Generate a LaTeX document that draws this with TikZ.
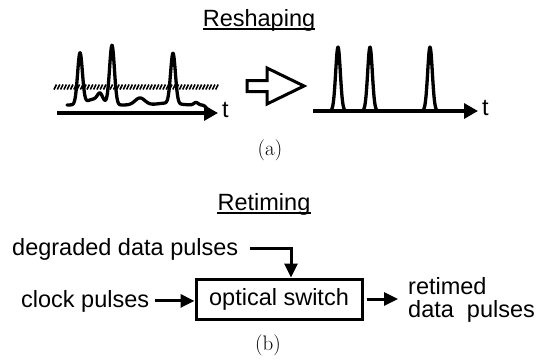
\documentclass[tikz,border=0pt]{standalone}
\usepackage{fontspec}
\newfontfamily\arialf{Liberation Sans}
\usetikzlibrary{arrows.meta}
\tikzset{
  declare function={G(\X,\M,\W)=exp(-min(((\X-\M)/\W)^2,15));},
  lbl/.style={font=\arialf\fontsize{23.5}{26}\selectfont, inner sep=0pt},
  captxt/.style={font=\fontsize{21}{24}\selectfont, inner sep=0pt},
  sig/.style={line width=3.3pt, line join=round, line cap=round},
  axisarrow/.style={line width=3.2pt, -{Triangle[length=14pt,width=15pt]}},
  conn/.style={line width=3pt, -{Triangle[length=14pt,width=13pt]}},
  switchbox/.style={draw, line width=3pt, minimum width=166pt, minimum height=40pt, inner sep=0pt, font=\arialf\fontsize{23.5}{26}\selectfont},
  uline/.style={line width=1.4pt},
  hatch/.style={line width=1.6pt},
}
\begin{document}
\begin{tikzpicture}[x=1pt,y=-1pt]
\useasboundingbox (0,0) rectangle (539,362);
% ---- (a) Reshaping ----
\node[lbl, anchor=base] (resh) at (259,26) {Reshaping};
\draw[uline] ([yshift=-3pt]resh.base west) -- ([yshift=-3pt]resh.base east);
% left plot
\foreach \hx in {54,57.3,...,219} \draw[hatch] (\hx,89.5) -- (\hx+2.5,84.5);
\draw[axisarrow] (57,113) -- (218,113);
\draw[sig] plot[domain=67:208, samples=400, variable=\t]
  (\t, {105 - 51*G(\t,80,3.4) - 59*G(\t,112,3.4) - 50*G(\t,173,3.4)
        - 6*G(\t,95,12) - 7*G(\t,100,3.5) - 7*G(\t,140,7)
        - 2*G(\t,168,14) - 2.5*G(\t,196,3) + 7*G(\t,210,4)});
\node[lbl, anchor=base west] (t1) at (222,117) {t};
% hollow arrow
\draw[line width=3pt, line join=miter] (247,80.5) -- (267,80.5) -- (267,68) -- (304,86) -- (267,104) -- (267,91.5) -- (247,91.5) -- cycle;
% right plot
\draw[axisarrow] (313,111) -- (478,111);
\draw[sig] plot[domain=322:446, samples=400, variable=\t]
  (\t, {111 - 64*G(\t,338,3.3) - 64*G(\t,370,3.3) - 64*G(\t,430,3.3)});
\node[lbl, anchor=base west] (t2) at (482,115) {t};
\node[captxt] (capa) at (270,150) {(a)};
% ---- (b) Retiming ----
\node[lbl, anchor=base] (retim) at (264,210) {Retiming};
\draw[uline] ([yshift=-3pt]retim.base west) -- ([yshift=-3pt]retim.base east);
\node[lbl, anchor=base west] (deg) at (12,255) {degraded data pulses};
\node[lbl, anchor=base west] (clk) at (21,307) {clock pulses};
\node[switchbox] (sw) at (279,299) {optical switch};
\node[lbl, anchor=base west] (out1) at (408,294) {retimed};
\node[lbl, anchor=base west] (out2) at (408,317) {data~~pulses};
\draw[conn] ([xshift=12pt]deg.east) -| ([xshift=12pt]sw.north);
\draw[conn] ([xshift=6pt]clk.east) -- (clk.east -| sw.west);
\draw[conn] ([xshift=3pt]sw.east) -- ([xshift=-10pt]out1.west |- sw.east);
\node[captxt] (capb) at (268,345) {(b)};
\end{tikzpicture}
\end{document}
